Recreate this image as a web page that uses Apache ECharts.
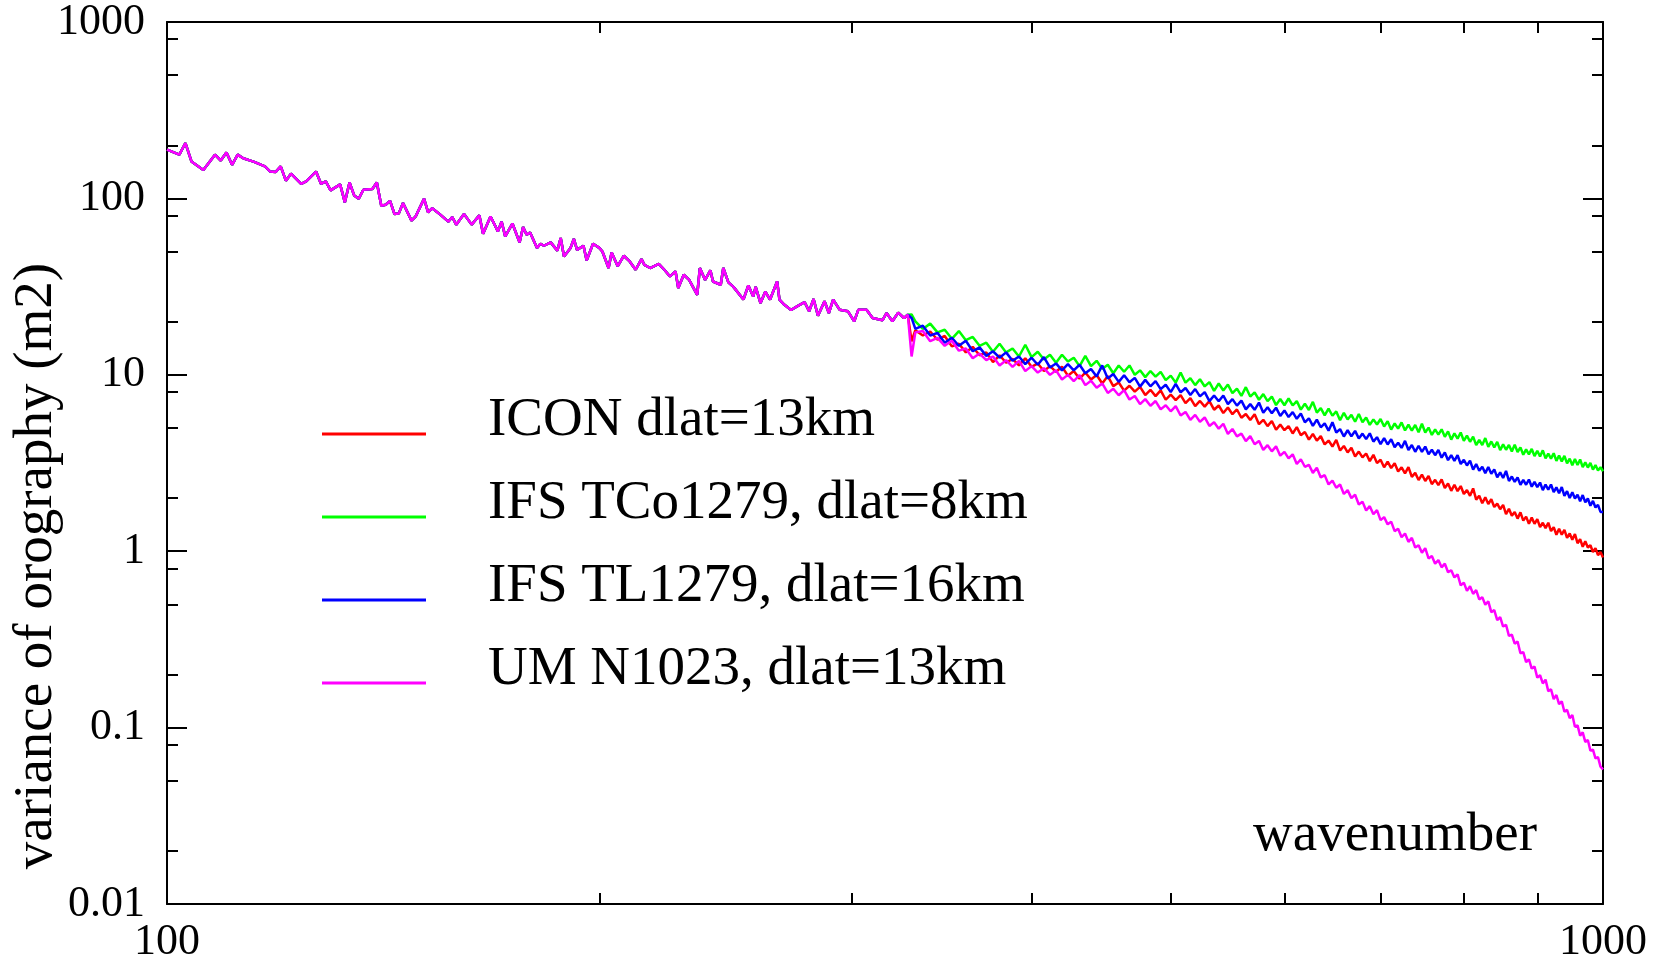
<!DOCTYPE html>
<html>
<head>
<meta charset="utf-8">
<style>
html,body{margin:0;padding:0;background:#fff;}
#chart{width:1669px;height:963px;}
</style>
<script src="https://cdn.jsdelivr.net/npm/echarts@6/dist/echarts.min.js"></script>
</head>
<body>
<div id="chart"></div>
<script>
// ---- Data ----
const seriesNames = ['ICON dlat=13km', 'IFS TCo1279, dlat=8km', 'IFS TL1279, dlat=16km', 'UM N1023, dlat=13km'];
const seriesColors = ['#ff0000', '#00ff00', '#0000ff', '#ff00ff'];

// Low wavenumbers: the four curves overlap here
const wnLow = [
  100,102,103,104,106,108,109,110,111,112,
  113,115,117,118,119,120,121,122,124,125,
  127,128,129,130,132,133,134,135,136,137,
  139,140,141,142,143,144,145,146,148,149,
  151,152,153,155,157,158,159,161,163,165,
  166,168,170,171,172,174,176,177,178,179,
  181,182,183,185,187,188,189,191,192,193,
  195,196,198,200,201,203,204,206,208,210,
  212,214,215,217,220,222,224,226,227,229,
  231,234,235,237,239,240,243,244,246,248,
  252,254,256,257,259,261,263,266,267,269,
  272,275,278,280,282,284,287,289,291,294,
  298,301,303,307,310,315,317,320,323,326,
  328
];
const varLow = [
  189,177,206,162,145,177,164,182,155,177,
  169,161,152,142,141,152,126,138,121,125,
  142,121,125,111,120,95,123,104,99.6,112,
  113,123,90.9,92,96.9,81.6,82,94.2,74.8,79.1,
  99.6,83.3,88,80.9,73.9,78.4,71,81.6,71,80.2,
  63,79,65,73.9,60.9,72,56.3,68.9,62.2,64,
  52.4,55.3,53.9,56.3,50.6,59.6,46.9,52.4,58.9,51.1,
  53.9,44.5,55.3,52.4,50,40.3,49.3,41.3,47.3,43.9,
  39.4,45.3,42,40.3,42.6,39.4,36.1,38.6,31,36.9,
  34.5,28.4,40.3,34.5,39.1,33.8,32.4,40.3,33.4,31.5,
  26.7,32.1,27.8,31.5,25.5,29.6,26.7,33.8,26.7,25,
  23.3,24.6,25.8,22.9,26.9,21.6,26.1,22.4,26.7,23.4,
  22.9,20.1,23.4,23.4,21,20.4,22.4,20.1,22.5,21.0,
  21.9
];

// High wavenumbers: the curves separate
const wnHigh = [
  330,
  332,336,340,344,348,352,356,360,364,368,
  372,376,380,384,388,392,396,400,404,408,
  412,416,420,424,428,432,436,440,444,448,
  452,456,460,464,468,472,476,480,484,488,
  492,496,500,504,508,512,516,520,524,528,
  532,536,540,544,548,552,556,560,564,568,
  572,576,580,584,588,592,596,600,604,608,
  612,616,620,624,628,632,636,640,644,648,
  652,656,660,664,668,672,676,680,684,688,
  692,696,700,704,708,712,716,720,724,728,
  732,736,740,744,748,752,756,760,764,768,
  772,776,780,784,788,792,796,800,804,808,
  812,816,820,824,828,832,836,840,844,848,
  852,856,860,864,868,872,876,880,884,888,
  892,896,900,904,908,912,916,920,924,928,
  932,936,940,944,948,952,956,960,964,968,
  972,976,980,984,988,992,996,1000
];
const iconHigh = [
  15.5,
  17.9,16.7,17.6,15.8,16.6,14.5,15.0,13.4,14.4,12.9,
  13.4,11.8,12.9,11.7,12.3,11.3,12.4,11.1,11.6,10.5,
  11.2,10.4,11.1,9.89,10.5,9.5,10.3,9.41,9.98,8.93,
  9.83,8.63,9.05,8.13,8.67,8.03,8.55,7.68,8.22,7.57,
  8.16,7.22,7.73,7.18,7.67,6.91,7.38,6.65,7.11,6.60,
  7.10,6.34,6.70,6.07,6.53,5.98,6.36,5.71,6.00,5.54,
  5.98,5.25,5.56,5.12,5.47,4.88,5.22,4.85,5.12,4.65,
  5.05,4.54,4.74,4.29,4.62,4.23,4.49,4.03,4.24,3.92,
  4.28,3.72,3.95,3.63,3.86,3.44,3.67,3.40,3.58,3.24,
  3.52,3.16,3.30,2.99,3.22,2.96,3.15,2.83,2.99,2.76,
  3.00,2.64,2.78,2.53,2.72,2.50,2.67,2.40,2.54,2.37,
  2.55,2.28,2.42,2.20,2.38,2.19,2.34,2.11,2.22,2.06,
  2.27,1.96,2.06,1.87,2.02,1.85,1.97,1.78,1.86,1.73,
  1.83,1.62,1.74,1.59,1.67,1.53,1.66,1.49,1.57,1.43,
  1.55,1.43,1.52,1.37,1.45,1.35,1.45,1.30,1.37,1.24,
  1.34,1.24,1.32,1.19,1.26,1.16,1.25,1.11,1.17,1.06,
  1.14,1.05,1.08,0.99,1.04,0.95,0.99,0.92
];
const tcoHigh = [
  22.0,
  20.1,18.2,19.5,17.4,18.0,16.0,17.7,15.7,16.4,14.6,
  15.2,13.5,15.0,13.4,14.1,12.7,14.8,12.6,13.5,12.2,
  13.0,11.7,13.0,11.9,12.5,11.2,12.8,11.2,12.0,10.8,
  11.4,10.2,11.3,10.4,11.3,10.0,10.6,9.7,10.5,9.76,
  10.4,9.33,9.89,9.03,10.3,9.02,9.57,8.74,9.43,8.59,
  9.09,8.10,8.93,8.15,8.80,7.87,8.34,7.6,8.51,7.53,
  7.95,7.22,7.77,7.10,7.53,6.73,7.29,6.72,7.34,6.70,
  7.10,6.35,6.86,6.32,7.02,6.11,6.47,5.89,6.43,5.86,
  6.20,5.53,6.09,5.58,5.93,5.42,5.99,5.38,5.73,5.20,
  5.59,5.23,5.62,5.09,5.46,4.89,5.30,4.95,5.37,4.84,
  5.21,4.83,5.20,4.72,5.28,4.71,5.02,4.56,4.90,4.58,
  4.91,4.45,4.78,4.29,4.66,4.35,4.71,4.22,4.52,4.17,
  4.46,3.99,4.27,4.00,4.38,3.90,4.19,3.88,4.17,3.74,
  4.03,3.76,4.00,3.67,4.02,3.65,3.88,3.52,3.78,3.54,
  3.80,3.46,3.71,3.44,3.73,3.36,3.57,3.35,3.59,3.25,
  3.49,3.23,3.47,3.15,3.35,3.07,3.33,3.08,3.31,3.00,
  3.19,2.98,3.17,2.90,3.08,2.87,2.99,2.84
];
const tlHigh = [
  21.0,
  18.2,19.0,16.7,17.3,15.2,16.2,14.6,15.6,13.6,14.3,
  12.8,13.6,12.5,13.4,12.0,12.7,11.5,12.5,11.4,12.6,
  11.0,11.6,10.6,11.5,10.6,11.4,10.2,10.8,9.79,11.3,
  9.54,10.1,9.12,9.95,9.08,9.61,8.57,9.36,8.61,9.20,
  8.29,8.78,7.98,8.88,7.95,8.42,7.68,8.30,7.55,7.97,
  7.09,7.64,7.08,7.63,6.82,7.28,6.69,7.14,6.37,6.82,
  6.33,6.96,6.10,6.55,6.06,6.51,5.84,6.28,5.76,6.14,
  5.63,6.04,5.38,5.67,5.13,5.57,5.04,5.30,4.82,5.38,
  4.71,4.92,4.47,4.85,4.48,4.81,4.36,4.64,4.32,4.66,
  4.18,4.43,4.04,4.37,4.03,4.31,3.89,4.12,3.85,4.22,
  3.75,4.00,3.66,3.96,3.66,3.92,3.54,3.76,3.50,3.75,
  3.39,3.63,3.28,3.50,3.25,3.50,3.12,3.30,3.06,3.26,
  2.90,3.12,2.86,3.01,2.77,3.00,2.75,2.91,2.62,2.80,
  2.60,2.85,2.50,2.65,2.47,2.62,2.38,2.54,2.38,2.55,
  2.32,2.47,2.31,2.45,2.22,2.39,2.23,2.39,2.16,2.30,
  2.13,2.31,2.06,2.19,2.00,2.16,1.99,2.09,1.92,2.08,
  1.89,1.99,1.81,1.93,1.77,1.83,1.67,1.67
];
const umHigh = [
  12.7,
  17.4,17.7,15.5,16.2,14.6,15.6,13.7,14.1,12.4,13.2,
  12.1,12.7,11.3,12.1,11.1,12.0,10.5,11.2,10.3,10.9,
  9.99,10.6,9.41,9.99,9.22,9.95,8.74,9.26,8.44,8.93,
  7.89,8.34,7.66,8.18,7.24,7.58,6.82,7.28,6.67,7.10,
  6.37,6.72,6.21,6.64,5.88,6.16,5.55,5.93,5.41,5.73,
  5.13,5.38,4.95,5.28,4.62,4.93,4.48,4.64,4.21,4.49,
  4.04,4.22,3.75,3.99,3.68,3.93,3.48,3.66,3.36,3.54,
  3.12,3.32,3.01,3.09,2.78,2.97,2.62,2.70,2.39,2.51,
  2.29,2.39,2.11,2.22,2.00,2.09,1.84,1.91,1.70,1.80,
  1.62,1.71,1.50,1.56,1.42,1.47,1.30,1.34,1.20,1.26,
  1.13,1.19,1.05,1.08,0.98,1.04,0.91,0.94,0.85,0.89,
  0.81,0.85,0.76,0.78,0.71,0.74,0.64,0.664,0.596,0.633,
  0.573,0.602,0.533,0.549,0.497,0.520,0.451,0.464,0.407,0.423,
  0.374,0.383,0.331,0.336,0.299,0.308,0.264,0.268,0.235,0.244,
  0.216,0.222,0.192,0.198,0.178,0.187,0.161,0.165,0.145,0.153,
  0.136,0.141,0.123,0.126,0.113,0.118,0.101,0.103,0.090,0.094,
  0.083,0.085,0.074,0.075,0.067,0.068,0.060,0.058
];
const highValues = [iconHigh, tcoHigh, tlHigh, umHigh];

// Axis ticks
const yMajorTicks = [0.01, 0.1, 1, 10, 100, 1000];
const yMinorTicks = [0.02,0.05,0.08, 0.2,0.5,0.8, 2,5,8, 20,50,80, 200,500,800];
const xMajorTicks = [100, 1000];
const xMinorTicks = [200,300,400,500,600,700,800,900];
const xTitle = 'wavenumber';
const yTitle = 'variance of orography (m2)';

// ---- Chart ----
const FONT = '"Liberation Serif", "Times New Roman", Times, serif';
const BLACK = '#000';

function buildSeriesData(high) {
  const d = wnLow.map((k, i) => [k, varLow[i]]);
  wnHigh.forEach((k, i) => d.push([k, high[i]]));
  return d;
}

function xAxisDef(pos, minor, labels) {
  return {
    type: 'log', logBase: 10, min: 100, max: 1000, position: pos,
    axisLine: { show: !minor, onZero: false, lineStyle: { color: BLACK, width: 2 } },
    axisTick: { show: true, inside: true, length: minor ? 11 : 20,
      customValues: minor ? xMinorTicks : xMajorTicks,
      lineStyle: { color: BLACK, width: 2 } },
    axisLabel: { show: labels, margin: 16, color: BLACK, fontFamily: FONT, fontSize: 44,
      customValues: xMajorTicks, formatter: v => String(v) },
    splitLine: { show: false }, minorTick: { show: false }
  };
}
function yAxisDef(pos, minor, labels) {
  return {
    type: 'log', logBase: 10, min: 0.01, max: 1000, position: pos,
    axisLine: { show: !minor, onZero: false, lineStyle: { color: BLACK, width: 2 } },
    axisTick: { show: true, inside: true, length: minor ? 11 : 20,
      customValues: minor ? yMinorTicks : yMajorTicks,
      lineStyle: { color: BLACK, width: 2 } },
    axisLabel: { show: labels, margin: 22, color: BLACK, fontFamily: FONT, fontSize: 44,
      padding: [6, 0, 0, 0],
      customValues: yMajorTicks, formatter: v => String(v) },
    splitLine: { show: false }, minorTick: { show: false }
  };
}

// Legend icon: a short bar drawn at the bottom of a taller box, so that the
// text (centred on the box) sits above the bar as in the original.
const legendIcon = 'path://M0,0 M0,27 L104,27 L104,30 L0,30 Z';

const chart = echarts.init(document.getElementById('chart'), null, { renderer: 'canvas' });
chart.setOption({
  backgroundColor: '#fff',
  animation: false,
  grid: { left: 167, right: 66, top: 22, bottom: 59, outerBoundsMode: 'none' },
  xAxis: [
    xAxisDef('bottom', false, true),
    xAxisDef('bottom', true, false),
    xAxisDef('top', false, false),
    xAxisDef('top', true, false)
  ],
  yAxis: [
    yAxisDef('left', false, true),
    yAxisDef('left', true, false),
    yAxisDef('right', false, false),
    yAxisDef('right', true, false)
  ],
  legend: {
    orient: 'vertical', left: 322, top: 393, padding: 0, itemGap: 28,
    selectedMode: false, icon: legendIcon, symbolKeepAspect: true,
    itemWidth: 104, itemHeight: 30,
    data: seriesNames,
    textStyle: { fontFamily: FONT, fontSize: 55, color: BLACK, lineHeight: 55,
      padding: [0, 0, 0, 57] }
  },
  graphic: [
    { type: 'text', x: 37, y: 566, rotation: Math.PI / 2, silent: true,
      style: { text: yTitle, font: '55px ' + FONT, fill: BLACK,
        textAlign: 'center', textVerticalAlign: 'middle' } },
    { type: 'text', x: 1253, y: 836, silent: true,
      style: { text: xTitle, font: '55px ' + FONT, fill: BLACK,
        textAlign: 'left', textVerticalAlign: 'middle' } }
  ],
  series: seriesNames.map((name, i) => ({
    name: name, type: 'line', xAxisIndex: 0, yAxisIndex: 0,
    showSymbol: false, symbol: 'none', smooth: false,
    color: seriesColors[i],
    lineStyle: { color: seriesColors[i], width: 2.5 },
    emphasis: { disabled: true },
    data: buildSeriesData(highValues[i])
  }))
});
</script>
</body>
</html>
